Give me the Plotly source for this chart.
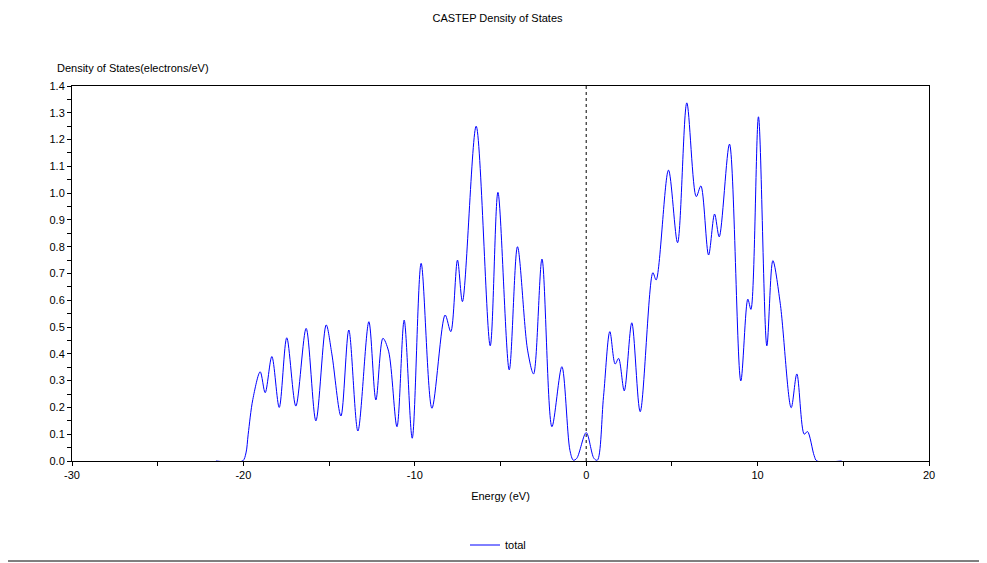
import plotly.graph_objects as go

# Energy (eV) and total DOS (electrons/eV)
energy = [-21.6, -20.05, -19.85, -19.72, -19.45, -19.02, -18.73, -18.34, -17.91, -17.47,
          -16.94, -16.34, -15.77, -15.17, -14.84, -14.31, -13.85, -13.32, -12.68, -12.27,
          -11.86, -11.53, -11.04, -10.62, -10.15, -9.63, -9.0, -8.23, -7.90, -7.51,
          -7.22, -6.42, -5.60, -5.15, -4.49, -4.01, -3.42, -3.07, -2.58, -2.0,
          -1.42, -0.95, -0.75, -0.55, 0.0, 0.45, 0.65, 1.01, 1.38, 1.69,
          1.89, 2.22, 2.66, 3.15, 3.89, 4.08, 4.80, 5.33, 5.87, 6.42,
          6.69, 7.14, 7.49, 7.76, 8.36, 9.02, 9.43, 9.61, 10.05, 10.54,
          10.89, 11.32, 11.96, 12.29, 12.72, 12.91, 13.3, 13.46, 14.9]
dos = [0.0, 0.0, 0.03, 0.10, 0.23, 0.333, 0.255, 0.39, 0.20, 0.46,
       0.205, 0.495, 0.15, 0.508, 0.40, 0.168, 0.489, 0.112, 0.52, 0.228,
       0.458, 0.41, 0.128, 0.526, 0.085, 0.738, 0.197, 0.545, 0.483, 0.75,
       0.595, 1.25, 0.43, 1.003, 0.34, 0.80, 0.414, 0.325, 0.754, 0.128,
       0.352, 0.04, 0.003, 0.01, 0.106, 0.01, 0.003, 0.24, 0.483, 0.362,
       0.383, 0.262, 0.516, 0.184, 0.703, 0.676, 1.086, 0.815, 1.337, 0.987,
       1.027, 0.769, 0.922, 0.837, 1.183, 0.299, 0.604, 0.566, 1.285, 0.43,
       0.748, 0.589, 0.199, 0.325, 0.10, 0.11, 0.02, 0.0, 0.0]

series_name = "total"
x_ticks = [-30, -20, -10, 0, 10, 20]
x_tick_text = ["-30", "-20", "-10", "0", "10", "20"]
y_ticks = [round(i * 0.1, 1) for i in range(15)]

FONT = "Liberation Sans"

fig = go.Figure()
fig.add_trace(go.Scatter(
    x=energy, y=dos, mode="lines", name=series_name,
    line=dict(color="#0000FF", width=1, shape="spline", smoothing=0.9),
))

axis_common = dict(
    showgrid=False, zeroline=False, showline=True, linecolor="black", linewidth=1,
    mirror=True, ticks="outside", ticklen=4, tickcolor="black", tickwidth=1,
    tickfont=dict(family=FONT, size=11, color="black"),
    automargin=False,
)

# page body has an 8px margin, so the figure is drawn 8px right/down
W, H = 979, 555
L, R, T, B = 64, 58, 78, 102
PW, PH = W - L - R, H - T - B

fig.update_layout(
    width=W, height=H,
    margin=dict(l=L, r=R, t=T, b=B, autoexpand=False),
    plot_bgcolor="white", paper_bgcolor="white",
    font=dict(family=FONT, size=11, color="black"),
    title=dict(text="CASTEP Density of States", x=0.5, xanchor="center",
               y=1 - 10 / H, yanchor="middle", font=dict(family=FONT, size=11)),
    xaxis=dict(range=[-30, 20], tickvals=x_ticks, ticktext=x_tick_text,
               minor=dict(dtick=5, ticks="outside", ticklen=4, tickcolor="black"),
               title=dict(text="Energy (eV)", font=dict(family=FONT, size=11), standoff=12),
               **axis_common),
    yaxis=dict(range=[0, 1.4], tickvals=y_ticks, tickformat=".1f",
               minor=dict(dtick=0.05, ticks="outside", ticklen=4, tickcolor="black"),
               **axis_common),
    showlegend=True,
    legend=dict(orientation="h", x=(498 - 72) / PW, xanchor="center",
                y=-(545 - 461) / PH, yanchor="middle",
                font=dict(family=FONT, size=11), bgcolor="rgba(0,0,0,0)"),
    shapes=[
        dict(type="line", xref="x", yref="y", x0=0, x1=0, y0=0, y1=1.4,
             line=dict(color="black", width=1, dash="3px,3px")),
        dict(type="line", xref="paper", yref="paper", x0=-L / PW, x1=(W + 8 - L) / PW,
             y0=-(561 - 461) / PH, y1=-(561 - 461) / PH,
             line=dict(color="black", width=1)),
    ],
    annotations=[
        dict(text="Density of States(electrons/eV)", xref="paper", yref="paper",
             x=-17 / PW, y=1 + (86 - 68) / PH, xanchor="left", yanchor="middle",
             showarrow=False, font=dict(family=FONT, size=11)),
    ],
)

fig.write_html("out.html", config={"displayModeBar": False})
